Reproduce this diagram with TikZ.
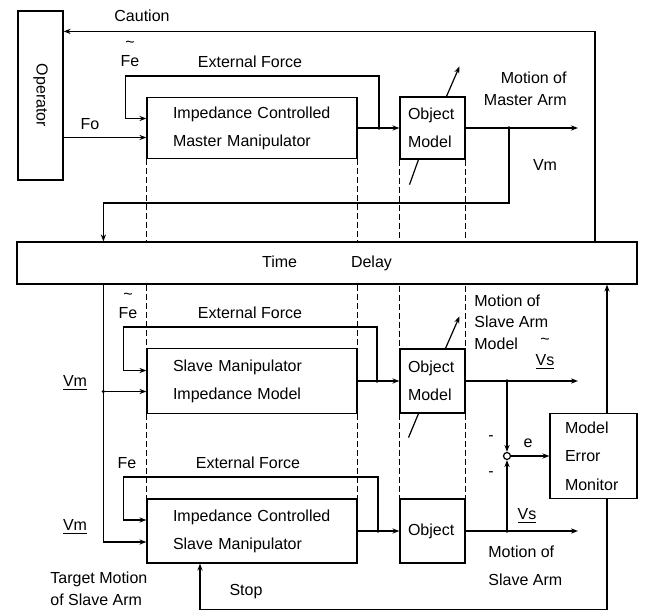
\documentclass[tikz,border=0pt]{standalone}
\usepackage{fontspec}
\setmainfont{Liberation Sans}
\usepackage{graphicx}
\usetikzlibrary{positioning, arrows.meta, calc, backgrounds}

\begin{document}
\begin{tikzpicture}[
  x=0.5pt, y=-0.5pt,
  box/.style={draw, line width=0.6pt, align=left, inner sep=0pt,
              font=\fontsize{8}{14}\selectfont},
  bigbox/.style={box, minimum width=105pt, minimum height=32pt, text width=79pt},
  objbox/.style={box, minimum width=32.5pt, minimum height=32pt, text width=24.5pt},
  lbl/.style={inner sep=0pt, font=\fontsize{8}{11}\selectfont},
  link/.style={line width=0.6pt},
  flow/.style={link, -{Stealth[length=3.5pt, width=2.6pt]}},
  guide/.style={line width=0.8pt, dash pattern=on 3pt off 1.5pt},
]
  \useasboundingbox (0,0) rectangle (649,610);

  % ═══ Blocks ═══════════════════════════════════════════════
  \node[box, minimum width=22.5pt, minimum height=84.5pt] (operator) at (40.5,95.5) {\rotatebox{-90}{Operator}};
  \node[box, minimum width=310pt, minimum height=21pt, fill=white] (delay) at (327,263) {Time\hspace{27pt}Delay};

  \node[bigbox, minimum height=30.5pt] (master) at (252,128) {Impedance Controlled\\Master Manipulator};
  \node[objbox, minimum height=31pt]   (mobj)   at (432.5,128) {Object\\Model};

  \node[bigbox, minimum height=32.5pt] (smodel) at (252,381) {Slave Manipulator\\Impedance Model};
  \node[objbox]                        (sobj)   at (432.5,381) {Object\\Model};

  \node[bigbox] (slave) at (252,531) {Impedance Controlled\\Slave Manipulator};
  \node[objbox] (obj)   at (432.5,531) {Object};

  \node[box, minimum width=43.5pt, minimum height=42.5pt, text width=28.5pt,
        font=\fontsize{8}{14.25}\selectfont] (monitor) at (593.5,456) {Model\\Error\\Monitor};
  \node[circle, draw, link, minimum size=3.5pt, inner sep=0pt] (sum) at (507,456) {};

  % dashed guides between matching blocks
  \begin{pgfonlayer}{background}
  \foreach \u/\l in {master/smodel, smodel/slave, mobj/sobj, sobj/obj} {
    \draw[guide] (\u.south west) -- (\l.north west);
    \draw[guide] (\u.south east) -- (\l.north east);
  }
  \end{pgfonlayer}

  % ═══ Master side ══════════════════════════════════════════
  \coordinate (fo_in)  at ([yshift=-4.75pt]master.west);
  \coordinate (mfe_in) at ([yshift=4.75pt]master.west);
  \coordinate (mfe)    at (379,128);
  \coordinate (mvm)    at (509,128);
  \coordinate (m_out)  at (578,128);

  \draw[flow] (operator.east |- fo_in) -- (fo_in);
  \draw[flow] (master.east) -- (mobj.west);
  \draw[flow] (mfe) -- ++(0,-52) -| ($(mfe_in)+(-21,0)$) -- (mfe_in);
  \draw[flow] (mobj.east) -- (m_out);
  \draw[flow] (mvm) -- ++(0,75) -| ($(delay.north west)+(87,0)$);
  \draw[flow] ([xshift=7pt]mobj.north) -- ++(13,-30);
  \draw[link] ([xshift=-7pt]mobj.south) -- ++(-9,25);
  % Caution back to operator
  \draw[flow] ([xshift=134pt]delay.north) |- ($(operator.north east)+(0,21)$);

  % ═══ Slave model ══════════════════════════════════════════
  \coordinate (vm_down) at ($(delay.south west)+(87,0)$);
  \coordinate (sfe_in)  at ([yshift=5.25pt]smodel.west);
  \coordinate (svm_in)  at ([yshift=-5.25pt]smodel.west);
  \coordinate (sfe)     at (377,381);
  \coordinate (svs)     at (507,381);
  \coordinate (s_out)   at (578,381);

  \draw[flow] (smodel.east) -- (sobj.west);
  \draw[flow] (sfe) -- ++(0,-54) -| ($(sfe_in)+(-23,0)$) -- (sfe_in);
  \draw[flow] (vm_down |- svm_in) -- (svm_in);
  \draw[flow] (sobj.east) -- (s_out);
  \draw[flow] (svs) -- (sum.north);
  \draw[flow] ([xshift=6.5pt]sobj.north) -- ++(14,-32);
  \draw[link] ([xshift=-7pt]sobj.south) -- ++(-10,24);

  % ═══ Slave arm ════════════════════════════════════════════
  \coordinate (tfe_in) at ([yshift=5.5pt]slave.west);
  \coordinate (tvm_in) at ([yshift=-5.5pt]slave.west);
  \coordinate (tfe)    at (378,531);
  \coordinate (tvs)    at (507,531);
  \coordinate (t_out)  at (578,531);

  \draw[flow] (vm_down) |- (tvm_in);
  \draw[flow] (slave.east) -- (obj.west);
  \draw[flow] (tfe) -- ++(0,-54) -| ($(tfe_in)+(-23,0)$) -- (tfe_in);
  \draw[flow] (obj.east) -- (t_out);
  \draw[flow] (tvs) -- (sum.south);

  % ═══ Error monitor ════════════════════════════════════════
  \coordinate (mon_up)  at ([xshift=6.75pt]monitor.north);
  \coordinate (mon_dn)  at ([xshift=6.75pt]monitor.south);
  \coordinate (stop_in) at ([xshift=-26pt]slave.south);

  \draw[flow] (sum.east) -- (monitor.west);
  \draw[flow] (mon_up) -- (mon_up |- delay.south);
  \draw[flow] (mon_dn) -- ++(0,110) -| (stop_in);

  % junction dots
  \foreach \j in {mfe, mvm, sfe, svs, tfe, tvs} {
    \fill (\j) circle (0.9pt);
  }
  \fill (vm_down |- svm_in) circle (0.9pt);

  % ═══ Labels ═══════════════════════════════════════════════
  \node[lbl] (caution) at (142,16) {Caution};
  \node[lbl, align=center, font=\fontsize{8}{9.5}\selectfont] (mfe_lbl) at (130,54) {\textasciitilde\\Fe};
  \node[lbl] (mext) at (250,62) {External Force};
  \node[lbl] (fo_lbl) at (90,124) {Fo};
  \node[lbl, align=right, anchor=east] (mmotion) at (567,89) {Motion of\\Master Arm};
  \node[lbl] (mvm_lbl) at (545,165) {Vm};

  \node[lbl, align=center, font=\fontsize{8}{9.5}\selectfont] (sfe_lbl) at (128,306) {\textasciitilde\\Fe};
  \node[lbl] (sext) at (250,313) {External Force};
  \node[lbl] (svm_lbl) at (75,383) {\underline{Vm}};
  \node[lbl, align=left, anchor=west, font=\fontsize{8}{10.75}\selectfont] (smotion) at (474,322) {Motion of\\Slave Arm\\Model};
  \node[lbl, align=center, font=\fontsize{8}{10.5}\selectfont] (svs_lbl) at (545,354) {\textasciitilde\\\underline{Vs}};
  \node[lbl] (minus_a) at (491,438) {-};
  \node[lbl] (minus_b) at (491,474) {-};
  \node[lbl] (e_lbl) at (528,443) {e};

  \node[lbl] (tfe_lbl) at (127,463) {Fe};
  \node[lbl] (text_lbl) at (248,463) {External Force};
  \node[lbl] (tvm_lbl) at (75,527) {\underline{Vm}};
  \node[lbl] (tvs_lbl) at (527,516) {\underline{Vs}};
  \node[lbl, align=left, anchor=west, font=\fontsize{8}{14}\selectfont] (tmotion) at (488,566) {Motion of\\Slave Arm};
  \node[lbl, align=left, anchor=west] (target) at (50,589) {Target Motion\\of Slave Arm};
  \node[lbl] (stop_lbl) at (246,592) {Stop};
\end{tikzpicture}
\end{document}
